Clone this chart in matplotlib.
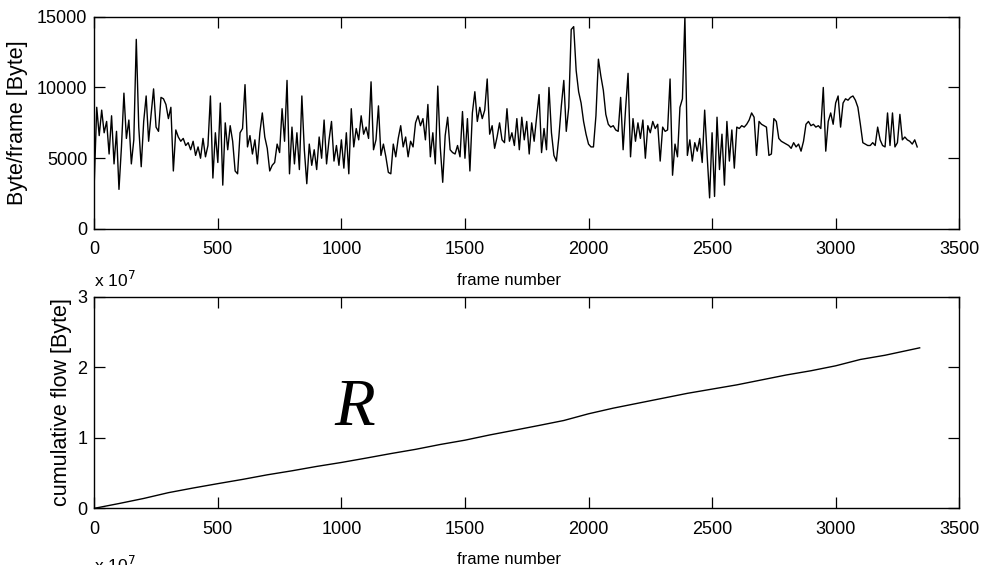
import matplotlib
matplotlib.use("Agg")
import matplotlib.pyplot as plt
import numpy as np

plt.rcParams["font.family"] = ["Liberation Sans", "DejaVu Sans"]

# byte/frame, every 10 frames (0 .. 3330)
FRAME_STEP = 10
BYTES_PER_FRAME = [
    3300, 8600, 6600, 8400, 6800, 7600, 5300, 8000, 4600, 6900,
    2800, 5800, 9600, 6400, 7700, 4600, 6300, 13400, 7200, 4400,
    7600, 9400, 6200, 8100, 9900, 7200, 6900, 9300, 9200, 8800,
    7800, 8600, 4100, 7000, 6500, 6200, 6400, 5900, 6100, 5600,
    6200, 5200, 5800, 5000, 6400, 5100, 5900, 9400, 3600, 6800,
    4700, 8900, 3100, 7500, 5600, 7300, 6200, 4100, 3900, 6800,
    7100, 10200, 5800, 6600, 5300, 6300, 4600, 6800, 8200, 6500,
    5700, 4100, 4500, 4700, 6000, 5400, 8500, 6200, 10500, 3900,
    7200, 4600, 6800, 4200, 9400, 5600, 3200, 6000, 4500, 5600,
    4200, 6500, 5000, 7700, 4600, 6300, 7600, 4800, 5900, 4500,
    6300, 4300, 6800, 3900, 8500, 5800, 7100, 6300, 8000, 6700,
    7200, 6400, 10400, 5600, 6300, 8700, 5200, 6000, 5100, 4000,
    3900, 6000, 5100, 6400, 7300, 5800, 6500, 5100, 6200, 5800,
    7500, 8000, 7300, 7800, 6300, 8800, 5100, 6800, 4600, 10100,
    5800, 3300, 6600, 7900, 5600, 5400, 5300, 5900, 5100, 8300,
    5000, 7800, 4100, 8200, 9700, 7600, 8600, 7800, 8400, 10600,
    6700, 7300, 5700, 6500, 7500, 6300, 6100, 8500, 6200, 6800,
    5900, 7800, 5600, 7900, 6300, 7600, 5300, 7500, 6200, 7900,
    9500, 5400, 7100, 5600, 10000, 6800, 5200, 4800, 6500, 8700,
    10500, 6900, 8600, 14100, 14300, 11200, 9700, 8900, 7600, 6700,
    6000, 5800, 5800, 8000, 12000, 10800, 9800, 8100, 7400, 7200,
    7300, 7000, 6900, 9300, 5600, 8500, 11000, 5100, 7800, 6200,
    7500, 6400, 7700, 5000, 7300, 6800, 7600, 7100, 7400, 4800,
    7200, 6900, 7000, 10600, 3800, 6000, 5100, 8600, 9200, 15000,
    5200, 6300, 4800, 6100, 5500, 6400, 4700, 8400, 5200, 2200,
    6800, 2300, 7900, 4200, 6700, 3100, 7600, 4800, 7000, 4300,
    7200, 7100, 7300, 7200, 7400, 7700, 8200, 7900, 5200, 7600,
    7400, 7300, 7200, 5200, 5300, 7800, 7600, 6400, 6200, 6100,
    6000, 5900, 5700, 6100, 5800, 6000, 5500, 6200, 7400, 7600,
    7300, 7400, 7200, 7300, 7100, 10000, 5500, 7600, 8200, 7400,
    8900, 9400, 7200, 8900, 9200, 9100, 9300, 9400, 9100, 8600,
    7400, 6100, 6000, 5900, 5900, 6100, 5900, 7200, 6300, 5900,
    5800, 8200, 5900, 8200, 5800, 6100, 8100, 6300, 6500, 6300,
    6200, 6000, 6300, 5800,
]

# cumulative flow in units of 1e7 byte, read every 100 frames
CUM_FRAMES = [0, 100, 200, 300, 400, 500, 600, 700, 800, 900, 1000,
              1100, 1200, 1300, 1400, 1500, 1600, 1700, 1800, 1900, 2000,
              2100, 2200, 2300, 2400, 2500, 2600, 2700, 2800, 2900, 3000,
              3100, 3200, 3300, 3340]
CUM_FLOW = [0.0, 0.068, 0.140, 0.222, 0.288, 0.350, 0.410, 0.475, 0.532,
            0.594, 0.650, 0.712, 0.776, 0.836, 0.905, 0.966, 1.040, 1.107,
            1.175, 1.245, 1.340, 1.420, 1.490, 1.560, 1.630, 1.690, 1.750,
            1.820, 1.890, 1.950, 2.020, 2.110, 2.170, 2.245, 2.275]

X_TICKS = [0, 500, 1000, 1500, 2000, 2500, 3000, 3500]
TOP_Y_TICKS = [0, 5000, 10000, 15000]
BOT_Y_TICKS = [0, 1, 2, 3]

frames = np.arange(len(BYTES_PER_FRAME)) * FRAME_STEP

fig = plt.figure(figsize=(9.84, 5.65), dpi=100)
ax1 = fig.add_axes([0.0958, 0.5947, 0.8790, 0.3757])
ax2 = fig.add_axes([0.0958, 0.1003, 0.8790, 0.3746])


def style(ax):
    ax.set_xlim(0, 3500)
    ax.set_xticks(X_TICKS)
    ax.tick_params(direction="in", length=8, width=0.9, top=True, right=True,
                   labelsize=13)
    ax.tick_params(axis="x", pad=9)
    ax.tick_params(axis="y", pad=5)
    for s in ax.spines.values():
        s.set_linewidth(1.0)


ax1.plot(frames, BYTES_PER_FRAME, color="black", lw=1.0)
style(ax1)
ax1.set_ylim(0, 15000)
ax1.set_yticks(TOP_Y_TICKS)
ax1.set_xlabel("frame number", fontsize=12)
ax1.xaxis.set_label_coords(0.479, -0.205)
ax1.set_ylabel("Byte/frame [Byte]", fontsize=15.5)
ax1.yaxis.set_label_coords(-0.077, 0.5)

ax2.plot(CUM_FRAMES, CUM_FLOW, color="black", lw=1.0)
style(ax2)
ax2.set_ylim(0, 3)
ax2.set_yticks(BOT_Y_TICKS)
ax2.set_xlabel("frame number", fontsize=12)
ax2.xaxis.set_label_coords(0.479, -0.205)
ax2.set_ylabel("cumulative flow [Byte]", fontsize=15.5)
ax2.yaxis.set_label_coords(-0.026, 0.5)

# exponent labels (the lower one belongs to a plot cut off below)
fig.text(0.096, 0.492, r"x 10$^7$", fontsize=12.5, va="baseline")
fig.text(0.096, -0.013, r"x 10$^7$", fontsize=12.5, va="baseline")

ax2.text(1052, 1.42, "R", fontsize=48, style="italic", ha="center",
         va="center", family=["Liberation Serif", "DejaVu Serif"])

fig.savefig("out.png", dpi=100)
